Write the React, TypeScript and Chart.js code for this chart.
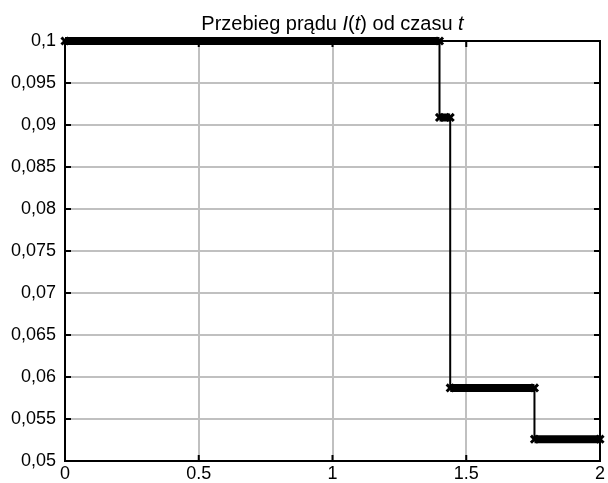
import React, { useEffect, useRef } from "react";
import { Chart, registerables } from "chart.js";

Chart.register(...registerables);

// Step levels of the current I(t)
const levelStarts = [0, 1.4, 1.44, 1.755];
const levelEnds = [1.4, 1.44, 1.755, 2];
const levelValues = [0.1, 0.0909, 0.0587, 0.0526];

const xTickValues = [0, 0.5, 1, 1.5, 2];
const xTickLabels = ["0", "0.5", "1", "1.5", "2"];
const yTickValues = [0.05, 0.055, 0.06, 0.065, 0.07, 0.075, 0.08, 0.085, 0.09, 0.095, 0.1];
const yTickLabels = ["0,05", "0,055", "0,06", "0,065", "0,07", "0,075", "0,08", "0,085", "0,09", "0,095", "0,1"];

const titleParts: [string, boolean][] = [
  ["Przebieg prądu ", false],
  ["I", true],
  ["(", false],
  ["t", true],
  [") od czasu ", false],
  ["t", true],
];

const FONT = "'Liberation Sans', Arial, sans-serif";

export default function App() {
  const ref = useRef<HTMLCanvasElement | null>(null);
  useEffect(() => {
    if (!ref.current) return;
    const stepData: { x: number; y: number }[] = [];
    levelValues.forEach((v, i) => {
      stepData.push({ x: levelStarts[i], y: v });
      stepData.push({ x: levelEnds[i], y: v });
    });
    const bandData: { x: number; y: number | null }[] = [];
    levelValues.forEach((v, i) => {
      bandData.push({ x: levelStarts[i], y: v });
      bandData.push({ x: levelEnds[i], y: v });
      if (i < levelValues.length - 1) bandData.push({ x: levelEnds[i], y: null });
    });

    const framePlugin = {
      id: "frame",
      beforeDatasetsDraw(chart: any) {
        const { ctx, chartArea } = chart;
        const { left, right, top, bottom } = chartArea;
        const xs = chart.scales.x;
        const ys = chart.scales.y;
        ctx.save();
        ctx.strokeStyle = "#000";
        ctx.lineWidth = 2;
        ctx.beginPath();
        ctx.moveTo(left, top);
        ctx.lineTo(right, top);
        ctx.lineTo(right, bottom);
        ctx.stroke();
        ctx.beginPath();
        const L = 6;
        xTickValues.forEach((v) => {
          const px = xs.getPixelForValue(v);
          ctx.moveTo(px, bottom);
          ctx.lineTo(px, bottom - L);
          ctx.moveTo(px, top);
          ctx.lineTo(px, top + L);
        });
        yTickValues.forEach((v) => {
          const py = ys.getPixelForValue(v);
          ctx.moveTo(left, py);
          ctx.lineTo(left + L, py);
          ctx.moveTo(right, py);
          ctx.lineTo(right - L, py);
        });
        ctx.stroke();
        ctx.restore();
      },
      afterDraw(chart: any) {
        const { ctx, chartArea } = chart;
        ctx.save();
        ctx.fillStyle = "#000";
        ctx.textBaseline = "alphabetic";
        ctx.textAlign = "left";
        const size = 20;
        const widths = titleParts.map(([t, it]) => {
          ctx.font = `${it ? "italic " : ""}${size}px ${FONT}`;
          return ctx.measureText(t).width;
        });
        const total = widths.reduce((a, b) => a + b, 0);
        let x = (chartArea.left + chartArea.right) / 2 - total / 2;
        titleParts.forEach(([t, it], i) => {
          ctx.font = `${it ? "italic " : ""}${size}px ${FONT}`;
          ctx.fillText(t, x, 30);
          x += widths[i];
        });
        ctx.restore();
      },
    };

    const chart = new Chart(ref.current, {
      type: "line",
      data: {
        datasets: [
          {
            data: bandData as any,
            borderColor: "#000",
            backgroundColor: "#000",
            borderWidth: 8,
            pointStyle: "crossRot",
            pointRadius: 5,
            pointBorderWidth: 3,
            pointBorderColor: "#000",
            spanGaps: false,
            clip: false as any,
          },
          {
            data: stepData,
            borderColor: "#000",
            borderWidth: 2,
            pointRadius: 0,
            clip: false as any,
          },
        ],
      },
      options: {
        responsive: false,
        animation: false,
        layout: { padding: { top: 41, right: 7, left: 0, bottom: 0 } },
        plugins: {
          legend: { display: false },
          title: { display: false },
          tooltip: { enabled: false },
        },
        scales: {
          x: {
            type: "linear",
            min: 0,
            max: 2,
            afterBuildTicks: (s: any) => {
              s.ticks = xTickValues.map((v) => ({ value: v }));
            },
            afterFit: (s: any) => {
              s.height = 22;
            },
            ticks: {
              color: "#000",
              font: { family: FONT, size: 18 },
              padding: 2,
              maxRotation: 0,
              callback: (_v: any, i: number) => xTickLabels[i],
            },
            grid: { color: "#c0c0c0", lineWidth: 2, drawTicks: false },
            border: { color: "#000", width: 2 },
          },
          y: {
            type: "linear",
            min: 0.05,
            max: 0.1,
            afterBuildTicks: (s: any) => {
              s.ticks = yTickValues.map((v) => ({ value: v }));
            },
            afterFit: (s: any) => {
              s.width = 65;
            },
            ticks: {
              color: "#000",
              font: { family: FONT, size: 18 },
              padding: 9,
              callback: (_v: any, i: number) => yTickLabels[i],
            },
            grid: { color: "#c0c0c0", lineWidth: 2, drawTicks: false },
            border: { color: "#000", width: 2 },
          },
        },
      },
      plugins: [framePlugin],
    });
    return () => chart.destroy();
  }, []);

  return (
    <div style={{ position: "fixed", left: 0, top: 0, width: 608, height: 483, background: "#fff" }}>
      <canvas ref={ref} width={608} height={483} />
    </div>
  );
}
